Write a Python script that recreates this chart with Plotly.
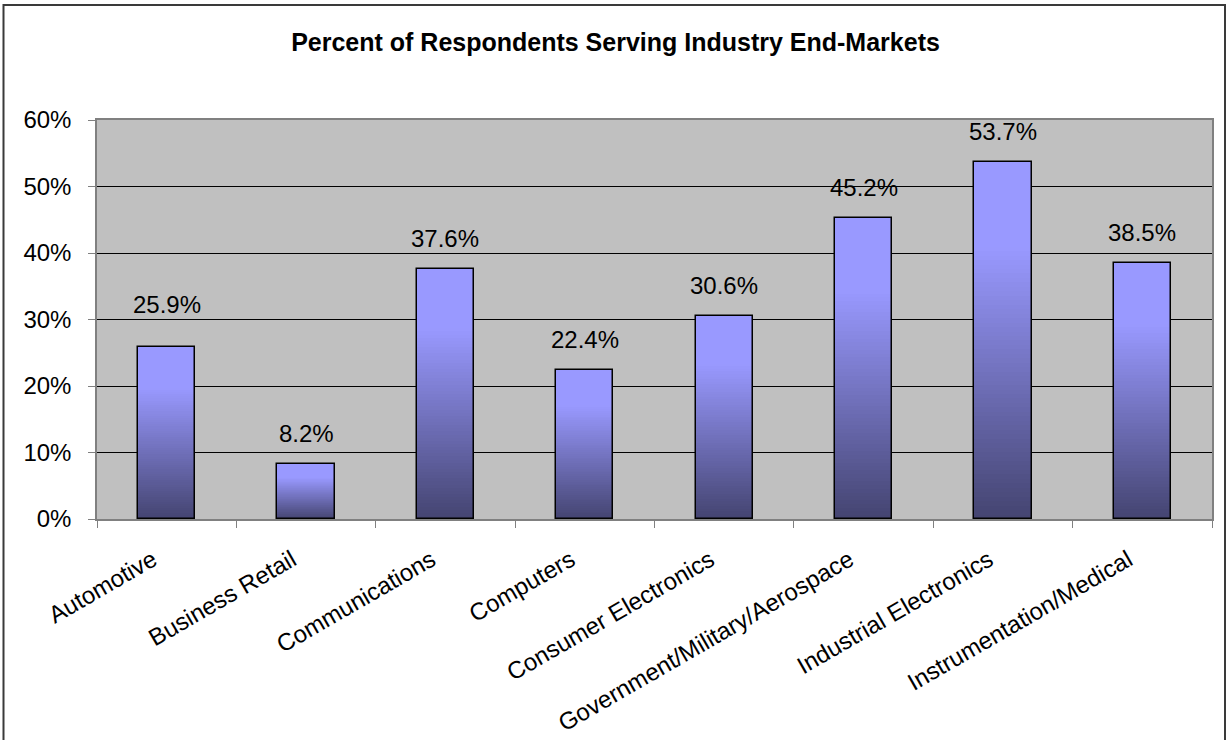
import plotly.graph_objects as go

categories = ["Automotive", "Business Retail", "Communications", "Computers",
              "Consumer Electronics", "Government/Military/Aerospace",
              "Industrial Electronics", "Instrumentation/Medical"]
values = [25.9, 8.2, 37.6, 22.4, 30.6, 45.2, 53.7, 38.5]
y_ticks = [0, 10, 20, 30, 40, 50, 60]
title_text = "Percent of Respondents Serving Industry End-Markets"

W, H = 1231, 740
ML, MR, MT, MB = 97, 19, 120, 221
BAR_W = 0.41
N_SEG = 80
DARK = (68, 68, 112)
LIGHT = (153, 153, 255)
STOP = 0.76
FONT = "Liberation Sans, Arial, sans-serif"


def seg_color(f):
    t = min(f / STOP, 1.0)
    c = [round(DARK[i] + (LIGHT[i] - DARK[i]) * t) for i in range(3)]
    return f"rgb({c[0]},{c[1]},{c[2]})"


fig = go.Figure()

# gradient fill: overlapping segments, each from a fraction of the bar up to its top
for k in range(N_SEG):
    frac = k / N_SEG
    fig.add_trace(go.Bar(
        x=categories,
        y=[v * (1 - frac) for v in values],
        base=[v * frac for v in values],
        width=BAR_W,
        marker=dict(color=seg_color(frac + 0.5 / N_SEG), line=dict(width=0)),
        hoverinfo="skip",
        showlegend=False,
    ))

# outline
fig.add_trace(go.Bar(
    x=categories,
    y=values,
    width=BAR_W,
    marker=dict(color="rgba(0,0,0,0)", line=dict(color="black", width=1.5)),
    showlegend=False,
    hovertemplate="%{x}: %{y:.1f}%<extra></extra>",
))

label_shift = {0: 27}
annotations = []
for i, (c, v) in enumerate(zip(categories, values)):
    annotations.append(dict(
        x=c, y=v, xref="x", yref="y", text=f"{v:.1f}%", showarrow=False,
        yanchor="bottom", yshift=label_shift.get(i, 15),
        font=dict(family=FONT, size=24, color="black"),
    ))

# outer chart border (pixel positions converted to paper coords)
pw = W - ML - MR
ph = H - MT - MB
def px_x(p):
    return (p - ML) / pw
def px_y(p):
    return (H - MB - p) / ph

fig.update_layout(
    width=W, height=H,
    margin=dict(l=ML, r=MR, t=MT, b=MB, autoexpand=False),
    paper_bgcolor="white",
    plot_bgcolor="#C0C0C0",
    barmode="overlay",
    bargap=0,
    title=dict(
        text=f"<b>{title_text}</b>",
        x=0.5, xref="container", xanchor="center",
        y=1 - 42 / H, yref="container", yanchor="middle",
        font=dict(family=FONT, size=25, color="black"),
    ),
    xaxis=dict(
        type="category",
        automargin=False,
        tickson="boundaries",
        ticks="outside", ticklen=7, tickcolor="#808080",
        tickangle=-30,
        ticklabelstandoff=16,
        ticklabelshift=-14,
        tickfont=dict(family=FONT, size=24, color="black"),
        showline=True, linecolor="#808080", linewidth=1.5, mirror=True,
        showgrid=False,
    ),
    yaxis=dict(
        range=[0, 60],
        automargin=False,
        tickvals=y_ticks,
        ticktext=[f"{t}%" for t in y_ticks],
        ticks="outside", ticklen=7, tickcolor="#808080",
        ticklabelstandoff=12,
        tickfont=dict(family=FONT, size=24, color="black"),
        showline=True, linecolor="#808080", linewidth=1.5, mirror=True,
        showgrid=True, gridcolor="black", gridwidth=1,
        zeroline=False,
    ),
    annotations=annotations,
    shapes=[dict(
        type="rect", xref="paper", yref="paper",
        x0=px_x(3.5), x1=px_x(1225), y0=px_y(745), y1=px_y(5),
        line=dict(color="#3a3a3a", width=2), fillcolor="rgba(0,0,0,0)",
        layer="above",
    )],
    showlegend=False,
)

fig.write_html("out.html", config={"displayModeBar": False},
               post_script="document.body.style.margin='0';")
